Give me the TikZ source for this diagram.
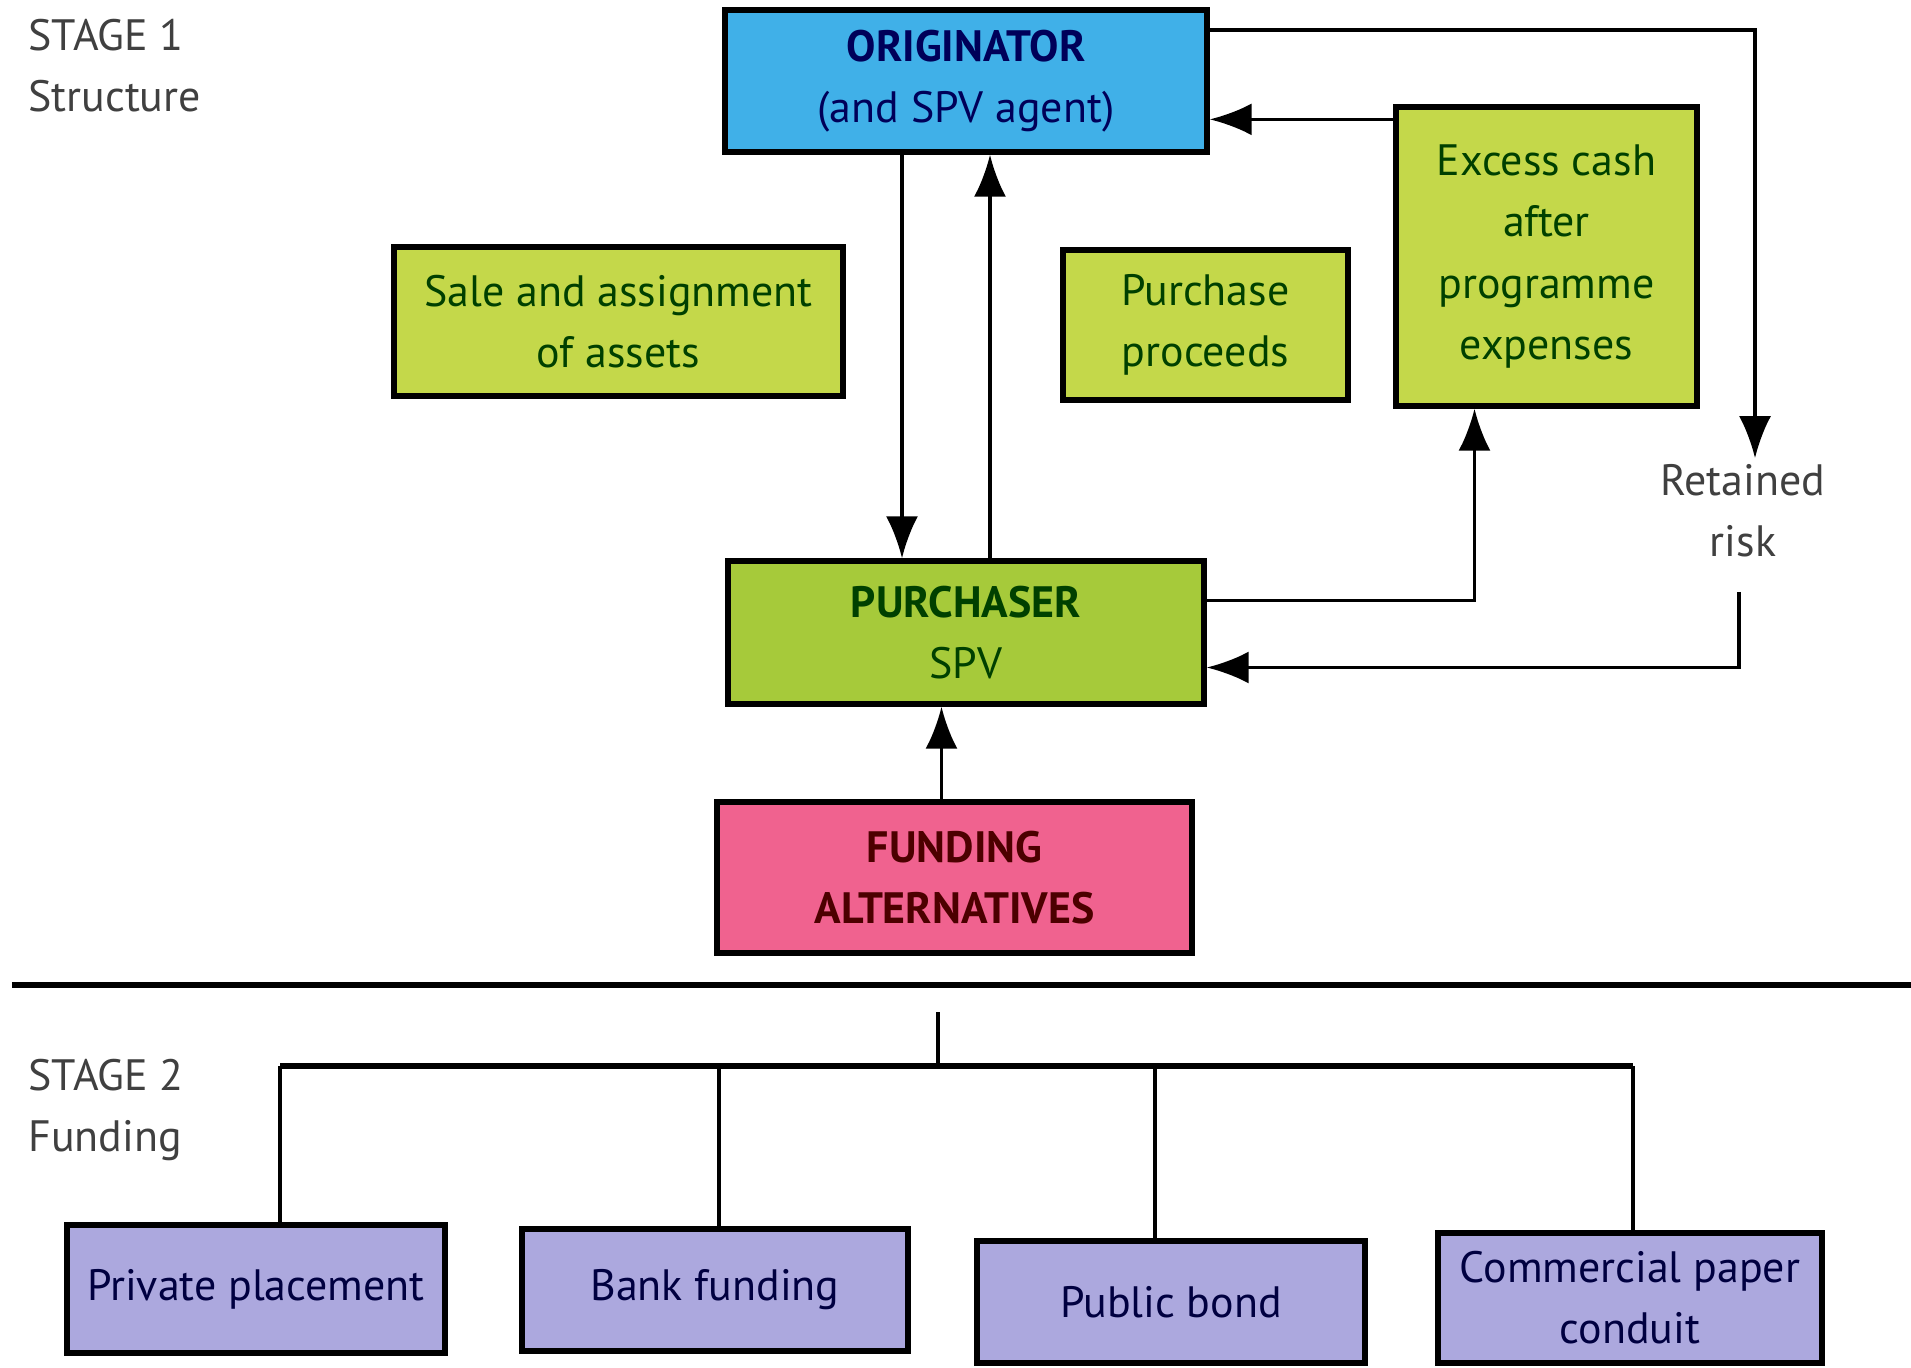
\documentclass[tikz,border=0pt]{standalone}
\usepackage{fontspec}
\setmainfont{PT Sans}
\usetikzlibrary{arrows.meta}
\definecolor{origblue}{RGB}{64,176,232}
\definecolor{limegreen}{RGB}{196,216,74}
\definecolor{spvgreen}{RGB}{166,202,58}
\definecolor{fundpink}{RGB}{240,98,143}
\definecolor{altpurple}{RGB}{172,168,222}
\begin{document}
\begin{tikzpicture}[>={Latex[length=4.2mm,width=3.2mm]},
    box/.style={draw, line width=1.5pt, align=center, inner sep=2pt,
        font=\fontsize{12.5}{17.4}\selectfont},
    flow/.style={->, line width=1pt},
    link/.style={line width=1pt}]
    \useasboundingbox (0,0) rectangle (19.11,13.67);
    % Stage 1: structure
    \node[anchor=north west, align=left, font=\fontsize{12.5}{17.4}\selectfont, text=black!75] (stageone) at (0.16,13.6) {STAGE 1\\Structure};
    \node[box, fill=origblue, text=blue!35!black, minimum width=4.82cm, minimum height=1.42cm] (orig) at (9.66,12.86) {\textbf{ORIGINATOR}\\(and SPV agent)};
    \node[box, fill=limegreen, text=green!25!black, minimum width=4.49cm, minimum height=1.49cm] (sale) at (6.185,10.455) {Sale and assignment\\of assets};
    \node[box, fill=limegreen, text=green!25!black, minimum width=2.85cm, minimum height=1.5cm] (proceeds) at (12.055,10.42) {Purchase\\proceeds};
    \node[box, fill=limegreen, text=green!25!black, minimum width=3.01cm, minimum height=2.99cm] (excess) at (15.465,11.105) {Excess cash\\after\\programme\\expenses};
    \node[align=center, font=\fontsize{12.5}{17.4}\selectfont, text=black!75] (retained) at (17.43,8.56) {Retained\\risk};
    \node[box, fill=spvgreen, text=green!25!black, minimum width=4.76cm, minimum height=1.43cm] (purch) at (9.66,7.345) {\textbf{PURCHASER}\\SPV};
    \node[box, fill=fundpink, text=red!30!black, minimum width=4.75cm, minimum height=1.51cm] (funding) at (9.545,4.895) {\textbf{FUNDING}\\\textbf{ALTERNATIVES}};

    \draw[flow] ([xshift=-0.64cm]orig.south) -- ([xshift=-0.64cm]purch.north);
    \draw[flow] ([xshift=0.24cm]purch.north) -- ([xshift=0.24cm]orig.south);
    \draw[flow] ([yshift=0.51cm]orig.east) -| ([xshift=0.12cm,yshift=-0.06cm]retained.north);
    \draw[flow] ([yshift=-0.15cm]excess.north west) -- ([yshift=-0.15cm]excess.north west -| orig.east);
    \draw[flow] ([yshift=0.32cm]purch.east) -| ([xshift=-0.72cm]excess.south);
    \draw[flow] ([xshift=-0.04cm,yshift=-0.22cm]retained.south) |- ([yshift=-0.35cm]purch.east);
    \draw[flow] ([xshift=-0.13cm]funding.north) -- ([xshift=-0.13cm]funding.north |- purch.south);

    \coordinate (divleft) at (0.12,3.82);
    \coordinate (divright) at (19.11,3.82);
    \draw[line width=1.6pt] (divleft) -- (divright);

    % Stage 2: funding
    \node[anchor=north west, align=left, font=\fontsize{12.5}{17.4}\selectfont, text=black!75] (stagetwo) at (0.16,3.2) {STAGE 2\\Funding};
    \node[box, fill=altpurple, text=blue!25!black, minimum width=3.78cm, minimum height=1.28cm] (private) at (2.56,0.78) {Private placement};
    \node[box, fill=altpurple, text=blue!25!black, minimum width=3.86cm, minimum height=1.22cm] (bank) at (7.15,0.77) {Bank funding};
    \node[box, fill=altpurple, text=blue!25!black, minimum width=3.88cm, minimum height=1.22cm] (public) at (11.71,0.65) {Public bond};
    \node[box, fill=altpurple, text=blue!25!black, minimum width=3.84cm, minimum height=1.3cm] (commercial) at (16.30,0.69) {Commercial paper\\conduit};

    \coordinate (stem) at (9.38,3.55);
    \coordinate (bar) at (9.38,3.01);
    \draw[link] (stem) -- (bar);
    \draw[line width=1.5pt] ([xshift=0.24cm]private.north |- bar) -- ([xshift=0.03cm]commercial.north |- bar);
    \draw[link] ([xshift=0.24cm]private.north) -- ([xshift=0.24cm]private.north |- bar);
    \draw[link] ([xshift=0.04cm]bank.north) -- ([xshift=0.04cm]bank.north |- bar);
    \draw[link] ([xshift=-0.16cm]public.north) -- ([xshift=-0.16cm]public.north |- bar);
    \draw[link] ([xshift=0.03cm]commercial.north) -- ([xshift=0.03cm]commercial.north |- bar);
\end{tikzpicture}
\end{document}
